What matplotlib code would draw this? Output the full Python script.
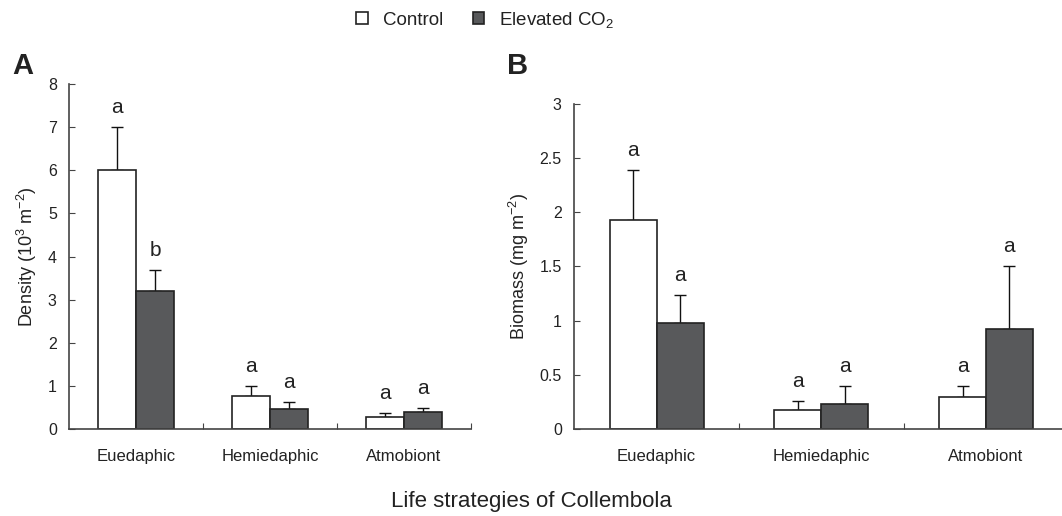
import numpy as np
import matplotlib.pyplot as plt
from matplotlib.ticker import FuncFormatter

plt.rcParams['font.family'] = ['Liberation Sans', 'DejaVu Sans']
plt.rcParams['mathtext.fontset'] = 'custom'
plt.rcParams['mathtext.rm'] = 'Liberation Sans'
plt.rcParams['mathtext.it'] = 'Liberation Sans:italic'

categories = ['Euedaphic', 'Hemiedaphic', 'Atmobiont']

# panel A: density (10^3 m^-2)
dens_control = [6.0, 0.78, 0.28]
dens_control_se = [1.0, 0.22, 0.09]
dens_elevated = [3.2, 0.47, 0.39]
dens_elevated_se = [0.5, 0.17, 0.10]
dens_letters_control = ['a', 'a', 'a']
dens_letters_elevated = ['b', 'a', 'a']

# panel B: biomass (mg m^-2)
bio_control = [1.93, 0.18, 0.30]
bio_control_se = [0.46, 0.08, 0.10]
bio_elevated = [0.98, 0.23, 0.92]
bio_elevated_se = [0.26, 0.17, 0.58]
bio_letters_control = ['a', 'a', 'a']
bio_letters_elevated = ['a', 'a', 'a']

dark = '#58595b'
edge = '#222222'
axis_col = '#444444'
txt = '#222222'
w = 0.285

fig = plt.figure(figsize=(10.62, 5.16), dpi=100)
axA = fig.add_axes([69.3/1062, 1-429.3/516, 401.4/1062, (429.3-84)/516])
axB = fig.add_axes([574.3/1062, 1-429.3/516, 494/1062, (429.3-103.5)/516])


def draw(ax, ctrl, ctrl_se, elev, elev_se, let_c, let_e, ymax, step, ylabel):
    x = np.arange(len(categories))
    b1 = ax.bar(x - w/2, ctrl, w, color='white', edgecolor=edge, linewidth=1.2, zorder=2)
    b2 = ax.bar(x + w/2, elev, w, color=dark, edgecolor=edge, linewidth=1.2, zorder=2)
    ax.errorbar(x - w/2, ctrl, yerr=[np.zeros(3), ctrl_se], fmt='none',
                ecolor='#111111', elinewidth=1, capsize=4.5, capthick=1, zorder=1)
    ax.errorbar(x + w/2, elev, yerr=[np.zeros(3), elev_se], fmt='none',
                ecolor='#111111', elinewidth=1, capsize=4.5, capthick=1, zorder=1)
    for xi, v, e, t in zip(x - w/2, ctrl, ctrl_se, let_c):
        ax.annotate(t, (xi, v + e), xytext=(0, 14), textcoords='offset points',
                    ha='center', va='center', fontsize=15, color=txt)
    for xi, v, e, t in zip(x + w/2, elev, elev_se, let_e):
        ax.annotate(t, (xi, v + e), xytext=(0, 14), textcoords='offset points',
                    ha='center', va='center', fontsize=15, color=txt)
    ax.set_xlim(-0.5, 2.5)
    ax.set_ylim(0, ymax)
    ax.set_yticks(np.arange(0, ymax + step/2, step))
    ax.yaxis.set_major_formatter(FuncFormatter(lambda v, p: '%g' % v))
    ax.set_xticks([0.5, 1.5, 2.5])
    ax.set_xticklabels([])
    ax.set_xticks(x, minor=True)
    ax.set_xticklabels(categories, minor=True)
    ax.tick_params(axis='x', which='major', direction='in', length=4.5, color=axis_col)
    ax.tick_params(axis='x', which='minor', length=0, pad=14, labelsize=12, labelcolor=txt)
    ax.tick_params(axis='y', direction='in', length=4.5, color=axis_col, labelsize=11.5,
                   labelcolor=txt, pad=9)
    for s in ['top', 'right']:
        ax.spines[s].set_visible(False)
    for s in ['left', 'bottom']:
        ax.spines[s].set_color(axis_col)
        ax.spines[s].set_linewidth(1.2)
    ax.set_ylabel(ylabel, fontsize=13, color=txt, labelpad=6)
    return b1, b2


h1, h2 = draw(axA, dens_control, dens_control_se, dens_elevated, dens_elevated_se,
              dens_letters_control, dens_letters_elevated, 8, 1,
              'Density (10$^{3}$ m$^{-2}$)')
draw(axB, bio_control, bio_control_se, bio_elevated, bio_elevated_se,
     bio_letters_control, bio_letters_elevated, 3, 0.5,
     'Biomass (mg m$^{-2}$)')

fig.text(12/1062, 1-66/516, 'A', fontsize=21, fontweight='bold', va='center', ha='left', color=txt)
fig.text(507/1062, 1-66/516, 'B', fontsize=21, fontweight='bold', va='center', ha='left', color=txt)

fig.legend([h1, h2], ['Control', 'Elevated CO$_2$'], loc='center', bbox_to_anchor=(0.457, 1-20/516),
           ncol=2, frameon=False, fontsize=13.5, handlelength=0.6, handleheight=0.6,
           columnspacing=1.6, handletextpad=0.8, labelcolor=txt)

fig.text(0.5, 1-502/516, 'Life strategies of Collembola', ha='center', va='center',
         fontsize=16, color=txt)

fig.savefig('out.png', dpi=100)
